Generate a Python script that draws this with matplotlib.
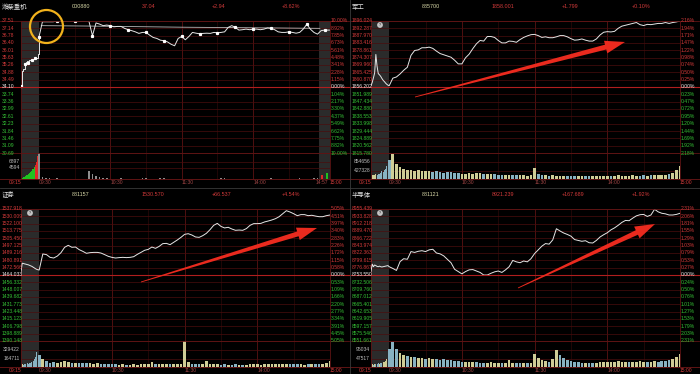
import matplotlib

matplotlib.use("Agg")
import matplotlib.patches as patches
import matplotlib.pyplot as plt
import matplotlib.transforms as mtrans
from matplotlib.lines import Line2D
import numpy as np

plt.rcParams["font.family"] = ["Liberation Sans", "Noto Sans CJK SC"]

W, H = 700, 374
BG = "#000000"
SHADE = "#2b2b2b"
FRAME = "#5e1414"
HGRID = "#4a0d0d"
VGRID = "#5c1212"
VGRID2 = "#2c0909"
MIDLINE = "#b01e1e"
RED = "#d23a3a"
GREEN = "#35c035"
WHITE = "#e8e8e8"
LINE = "#e6e6e6"
VOL_UP = "#cfcd96"
VOL_DN = "#88b2c2"
FS = 3.6

# minutes after 09:30 (trading time, lunch removed); auction is 09:15-09:29
AUCTION_T = np.arange(-15, 0)
TRADE_T = np.arange(0, 241, 3)

# ---------------- 潍柴重机 000880 (price) ----------------
wc_header = ["潍柴重机", "000880", "37.04", "+2.94", "+8.62%"]
wc_left = ["37.51", "37.14", "36.78", "36.40", "36.01", "35.63", "35.26", "34.88", "34.49",
           "34.10", "33.74", "33.36", "32.99", "32.61", "32.23", "31.84", "31.46", "31.09", "30.69"]
wc_right = ["10.00%", "8.92%", "7.85%", "6.73%", "5.61%", "4.48%", "3.41%", "2.28%", "1.15%",
            "0.00%", "1.04%", "2.17%", "3.30%", "4.37%", "5.49%", "6.62%", "7.75%", "8.82%", "10.00%"]
wc_auction = [34.14, 34.95, 35.02, 35.30, 35.40, 35.45, 35.35, 35.50, 35.52, 35.50,
              35.55, 35.56, 35.58, 35.60, 35.78]
wc_price = [36.66, 37.47, 37.47, 37.47, 37.47, 37.51, 37.51, 37.51, 37.51, 37.51,
            37.51, 37.51, 37.51, 37.51, 37.51, 36.75, 37.41, 37.35, 37.27, 37.30,
            37.27, 37.21, 37.23, 37.23, 37.13, 37.06, 37.01, 36.95, 36.87, 36.92,
            36.92, 36.78, 36.66, 36.61, 36.52, 36.49, 36.43, 36.31, 36.23, 36.61,
            36.71, 36.54, 36.71, 36.92, 36.88, 36.85, 36.87, 36.88, 36.87, 36.92,
            36.90, 36.92, 36.95, 37.18, 37.27, 37.18, 37.04, 37.06, 37.09, 37.06,
            37.09, 37.09, 37.06, 37.09, 37.15, 37.13, 37.06, 36.95, 36.92, 36.92,
            36.95, 36.92, 36.88, 36.92, 37.09, 37.34, 37.09, 36.92, 36.83, 37.01,
            37.04]
wc_close_t = [244]
wc_close_price = [37.04]
wc_avg_t = [2, 40, 80, 120, 160, 200, 236]
wc_avg = [37.27, 37.25, 37.22, 37.19, 37.17, 37.15, 37.13]
wc_auction_vol = [310, 517, 828, 1035, 1345, 1655, 2069, 2483, 2897, 3414, 3931, 4655, 5690, 6724, 9311]
wc_auction_side = ["b", "b", "b", "b", "b", "b", "b", "b", "b", "b", "b", "b", "s", "s", "s"]
wc_vol = [10300, 830, 520, 410, 310, 360, 310, 260, 310, 260,
          210, 260, 210, 310, 3100, 2280, 1240, 830, 520, 410,
          310, 260, 310, 360, 310, 260, 210, 310, 260, 360,
          410, 310, 260, 310, 360, 410, 310, 260, 210, 260,
          310, 260, 210, 260, 210, 310, 260, 210, 260, 210,
          310, 410, 360, 310, 260, 210, 260, 310, 210, 260,
          310, 260, 210, 260, 310, 360, 310, 260, 210, 260,
          310, 260, 310, 360, 310, 260, 310, 360, 410, 310,
          260]
wc_close_vol_t = [238, 242]
wc_close_vol = [1760, 2380]
wc_vol_ticks = [6897, 4594]

# ---------------- 军工 885700 (% change) ----------------
jg_header = ["军工", "885700", "1858.001", "+1.799", "+0.10%"]
jg_left = ["1896.024", "1892.287", "1887.970", "1883.416", "1878.861", "1874.307", "1869.960",
           "1865.425", "1860.870", "1856.202", "1851.989", "1847.434", "1842.880", "1838.553",
           "1833.998", "1829.444", "1824.889", "1820.562", "1815.780"]
jg_right = ["2.16%", "1.94%", "1.71%", "1.47%", "1.22%", "0.98%", "0.74%", "0.50%", "0.25%",
            "0.00%", "0.23%", "0.47%", "0.72%", "0.95%", "1.20%", "1.44%", "1.69%", "1.92%", "2.18%"]
jg_auction = [0.04, 0.15, 0.30, 0.46, 1.07, 0.68, 0.44, 0.40, 0.35, 0.28, 0.22, 0.18, 0.13, 0.09, 0.06]
jg_pct = [0.04, 0.29, 0.33, 0.43, 0.55, 0.65, 1.04, 1.20, 1.22, 1.29,
          1.29, 1.31, 1.27, 1.18, 1.10, 1.06, 1.02, 0.98, 0.88, 0.76,
          0.76, 0.96, 1.08, 1.26, 1.42, 1.53, 1.51, 1.66, 1.66, 1.63,
          1.53, 1.45, 1.45, 1.51, 1.50, 1.47, 1.56, 1.63, 1.68, 1.72,
          1.73, 1.69, 1.63, 1.65, 1.62, 1.62, 1.65, 1.69, 1.69, 1.65,
          1.59, 1.54, 1.55, 1.58, 1.54, 1.51, 1.51, 1.58, 1.71, 1.80,
          1.82, 1.81, 1.83, 1.93, 2.00, 2.03, 2.06, 2.09, 2.12, 2.05,
          2.02, 2.06, 2.05, 2.07, 2.09, 2.09, 2.12, 2.09, 2.12, 2.14,
          2.17]
jg_auction_vol_k = [154, 192, 231, 192, 256, 231, 256, 282, 320, 385, 359, 449, 513, 641, 577]
jg_vol_k = [961, 1218, 769, 577, 487, 449, 462, 423, 449, 410,
            385, 410, 359, 385, 359, 320, 346, 333, 320, 308,
            282, 256, 308, 282, 320, 308, 282, 256, 244, 256,
            231, 218, 231, 205, 218, 192, 205, 192, 179, 192,
            538, 256, 205, 192, 179, 192, 167, 179, 154, 167,
            154, 154, 141, 154, 141, 154, 141, 154, 179, 167,
            179, 167, 179, 192, 179, 167, 179, 192, 179, 167,
            192, 179, 192, 205, 192, 205, 231, 256, 320, 449,
            641]
jg_vol_ticks = [854656, 427328]

# ---------------- 证券 881157 (% change) ----------------
zq_header = ["证券", "881157", "1530.570", "+66.537", "+4.54%"]
zq_left = ["1537.918", "1530.009", "1522.100", "1513.775", "1505.450", "1497.125", "1489.216",
           "1480.891", "1472.566", "1464.033", "1456.332", "1448.007", "1439.682", "1431.773",
           "1423.448", "1415.123", "1406.798", "1398.889", "1390.148"]
zq_right = ["5.05%", "4.51%", "3.97%", "3.40%", "2.83%", "2.26%", "1.72%", "1.15%", "0.58%",
            "0.00%", "0.53%", "1.09%", "1.66%", "2.20%", "2.77%", "3.34%", "3.91%", "4.45%", "5.05%"]
zq_auction = [0.25, 0.90, 0.88, 0.85, 0.83, 0.80, 0.78, 0.74, 0.70, 0.66, 0.60, 0.54, 0.48, 0.43, 0.40]
zq_pct = [0.38, 1.61, 1.56, 1.35, 1.30, 1.45, 1.71, 2.12, 2.27, 2.12,
          2.14, 1.94, 1.81, 1.66, 1.71, 1.73, 1.73, 1.68, 1.56, 1.43,
          1.35, 1.30, 1.33, 1.35, 1.33, 1.35, 1.40, 1.58, 1.73, 1.89,
          1.96, 2.14, 2.04, 2.19, 2.40, 2.42, 2.32, 2.50, 2.68, 2.88,
          3.11, 3.16, 3.06, 2.91, 2.88, 3.01, 3.19, 3.47, 3.80, 3.95,
          3.72, 3.60, 3.65, 3.52, 3.42, 3.44, 3.42, 3.55, 3.80, 3.93,
          3.93, 3.95, 4.06, 4.13, 4.21, 4.31, 4.46, 4.69, 4.92, 4.82,
          4.69, 4.54, 4.62, 4.62, 4.54, 4.57, 4.51, 4.46, 4.46, 4.54,
          4.59]
zq_auction_vol_k = [49, 59, 49, 69, 59, 74, 64, 79, 89, 99, 124, 148, 198, 296, 410]
zq_vol_k = [222, 148, 109, 89, 99, 84, 99, 124, 99, 89,
            79, 89, 74, 84, 74, 69, 79, 69, 64, 69,
            59, 54, 49, 54, 49, 49, 54, 49, 59, 54,
            64, 99, 59, 64, 54, 69, 59, 54, 59, 64,
            494, 99, 59, 54, 59, 69, 109, 69, 59, 54,
            49, 54, 49, 49, 54, 49, 44, 49, 54, 59,
            54, 49, 59, 64, 59, 54, 69, 64, 69, 59,
            54, 59, 54, 49, 54, 59, 54, 59, 64, 74,
            124]
zq_vol_ticks = [329422, 164711]

# ---------------- 半导体 881121 (% change) ----------------
bdt_header = ["半导体", "881121", "8921.239", "+167.689", "+1.92%"]
bdt_left = ["8955.439", "8933.828", "8912.218", "8889.470", "8866.722", "8843.974", "8822.363",
            "8799.615", "8776.867", "8753.550", "8732.506", "8709.760", "8687.012", "8665.401",
            "8642.653", "8619.905", "8597.157", "8575.546", "8551.661"]
bdt_right = ["2.31%", "2.06%", "1.81%", "1.55%", "1.29%", "1.03%", "0.79%", "0.53%", "0.27%",
             "0.00%", "0.24%", "0.50%", "0.76%", "1.01%", "1.27%", "1.53%", "1.79%", "2.03%", "2.31%"]
bdt_auction = [0.12, 0.38, 0.29, 0.35, 0.33, 0.30, 0.29, 0.31, 0.29, 0.28, 0.29, 0.30, 0.31, 0.32, 0.33]
bdt_pct = [0.29, 0.23, 0.16, 0.47, 0.57, 0.55, 0.82, 0.79, 0.83, 0.85,
           0.82, 0.88, 0.90, 0.77, 0.74, 0.67, 0.55, 0.43, 0.20, 0.12,
           0.04, 0.12, 0.18, 0.19, 0.14, 0.09, 0.00, 0.00, 0.06, 0.11,
           0.14, 0.09, 0.18, 0.29, 0.51, 0.46, 0.43, 0.49, 0.46, 0.57,
           0.75, 0.88, 1.01, 1.10, 1.08, 1.23, 1.62, 1.54, 1.47, 1.42,
           1.36, 1.24, 1.21, 1.18, 1.20, 1.13, 1.12, 1.21, 1.33, 1.41,
           1.48, 1.58, 1.65, 1.74, 1.84, 1.91, 1.90, 1.99, 2.07, 2.11,
           2.12, 2.05, 2.10, 2.30, 2.21, 2.16, 2.14, 2.10, 2.10, 2.12,
           2.16]
bdt_auction_vol_k = [14, 17, 14, 17, 20, 19, 21, 20, 23, 26, 29, 31, 36, 43, 54]
bdt_vol_k = [100, 135, 100, 78, 64, 60, 54, 57, 51, 50,
             47, 48, 46, 43, 40, 43, 38, 40, 36, 34,
             31, 29, 27, 29, 30, 26, 24, 26, 27, 26,
             24, 24, 23, 40, 21, 23, 21, 23, 21, 23,
             71, 50, 40, 34, 31, 43, 93, 64, 50, 40,
             36, 31, 29, 26, 24, 23, 24, 26, 29, 31,
             29, 27, 30, 33, 29, 31, 30, 29, 31, 34,
             30, 29, 31, 34, 31, 33, 36, 40, 43, 54,
             71]
bdt_vol_ticks = [95034, 47517]


def fx(x):
    return x / W


def fy(y):
    return 1 - y / H


def px_axes(fig, x0, y0, x1, y1):
    return fig.add_axes([x0 / W, 1 - y1 / H, (x1 - x0) / W, (y1 - y0) / H])


def panel_frame(fig, ox, oy, header, left_labels, right_labels, ylim, xlim, vol_top,
                vol_ticks, time_labels, grey_right=None):
    x0, x1 = ox + 21, ox + 330
    ax = px_axes(fig, x0, oy + 21, x1, oy + 153)
    axv = px_axes(fig, x0, oy + 153, x1, oy + 179.3)
    ax.set_ylim(*ylim)
    axv.set_ylim(0, vol_top)
    for a in (ax, axv):
        a.set_facecolor(BG)
        a.set_xlim(*xlim)
        a.set_autoscale_on(False)
        a.set_xticks([])
        a.set_yticks([])
        for s in a.spines.values():
            s.set_color(FRAME)
            s.set_linewidth(0.6)
        a.axvspan(xlim[0], 0, color=SHADE, lw=0, zorder=0)
        if grey_right is not None:
            a.axvspan(grey_right, xlim[1], color=SHADE, lw=0, zorder=0)
        for t in (60, 120, 180):
            a.axvline(t, color=VGRID, lw=0.6, zorder=1)
        for t in (30, 90, 150, 210):
            a.axvline(t, color=VGRID2, lw=0.5, zorder=1)

    # full-width lines (limits and previous close) are drawn on the figure itself
    ticks = np.linspace(ylim[1], ylim[0], len(left_labels))
    mid = len(left_labels) // 2
    y_top, y_bot = oy + 21, oy + 153
    for i, (ll, rl) in enumerate(zip(left_labels, right_labels)):
        c = RED if i < mid else (WHITE if i == mid else GREEN)
        yv = ticks[i]
        ypix = y_top + (y_bot - y_top) * i / (len(ticks) - 1)
        if i in (0, mid, len(ticks) - 1):
            fig.add_artist(Line2D([fx(ox), fx(ox + 349)], [fy(ypix)] * 2,
                                  color=MIDLINE if i == mid else FRAME,
                                  lw=0.8 if i == mid else 0.6, zorder=2))
        else:
            ax.axhline(yv, color=HGRID, lw=0.5, zorder=1)
        fig.text(fx(ox + 1.5), fy(ypix), ll, ha="left", va="center", fontsize=FS, color=c)
        fig.text(fx(ox + 331), fy(ypix), rl, ha="left", va="center", fontsize=FS, color=c)

    vtrans = mtrans.blended_transform_factory(fig.transFigure, axv.transData)
    for v in vol_ticks:
        axv.axhline(v, color=HGRID, lw=0.5, zorder=1)
        axv.text(fx(ox + 20), v, str(v), transform=vtrans, ha="right", va="center", fontsize=FS, color="#bdbdbd")
    fig.add_artist(Line2D([fx(ox), fx(ox + 349)], [fy(oy + 179.3)] * 2, color=FRAME, lw=0.7))

    ttrans = mtrans.blended_transform_factory(axv.transData, fig.transFigure)
    for lab, t, ha in time_labels:
        col = RED if lab in ("09:15", "15:00") else "#a04545"
        axv.text(t, fy(oy + 182.5), lab, transform=ttrans, ha=ha, va="center", fontsize=FS, color=col)

    xs = [ox + 2, ox + 72, ox + 142, ox + 212, ox + 282]
    cols = ["#e0e0e0", "#d8d8a8", RED, RED, RED]
    sizes = [4.6, 3.9, 3.9, 3.9, 3.9]
    for x, s, c, fs in zip(xs, header, cols, sizes):
        fig.text(fx(x), fy(oy + 6.5), s, ha="left", va="center", fontsize=fs, color=c)
    return ax, axv


def index_panel(fig, ox, oy, header, left_labels, right_labels, lim, auction, pct,
                auction_vol_k, vol_k, vol_ticks):
    xlim = (-15, 240)
    vt = vol_ticks[0] * 1.5
    times = [("09:15", xlim[0], "right"), ("09:30", 0, "left"), ("10:30", 60, "left"),
             ("11:30", 120, "left"), ("14:00", 180, "left"), ("15:00", 240, "left")]
    ax, axv = panel_frame(fig, ox, oy, header, left_labels, right_labels, (-lim, lim), xlim, vt,
                          vol_ticks, times)
    t = np.concatenate([AUCTION_T, TRADE_T])
    v = np.concatenate([auction, pct])
    ax.plot(t, v, color=LINE, lw=0.7, zorder=4)

    vol = np.concatenate([auction_vol_k, vol_k]) * 1000
    d = np.diff(np.concatenate([[v[0]], v]))
    colors = np.where(d >= 0, VOL_UP, VOL_DN)
    widths = np.concatenate([np.full(len(AUCTION_T), 0.75), np.full(len(TRADE_T), 2.2)])
    axv.bar(t, vol, width=widths, color=colors, lw=0, zorder=3)
    ax.set_ylim(-lim, lim)
    axv.set_ylim(0, vt)

    fig.text(fx(ox + 30), fy(oy + 25), "?", ha="center", va="center", fontsize=2.6, color="#111111",
             bbox=dict(boxstyle="circle,pad=0.25", fc="#c4c4c4", ec="none"))


def red_arrow(fig, tail, tip, head_len=20, head_w=13, tail_w=0.8, neck_w=5):
    t = np.array(tail, float)
    p = np.array(tip, float)
    u = (p - t) / np.hypot(*(p - t))
    n = np.array([-u[1], u[0]])
    base = p - u * head_len
    pts = [t + n * tail_w / 2, base + n * neck_w / 2, base + n * head_w / 2, p,
           base - n * head_w / 2, base - n * neck_w / 2, t - n * tail_w / 2]
    pts = [(fx(x), fy(y)) for x, y in pts]
    fig.patches.append(patches.Polygon(pts, closed=True, transform=fig.transFigure,
                                       fc="#ea2a1e", ec="none", zorder=20))


def main():
    fig = plt.figure(figsize=(7.0, 3.74), dpi=100, facecolor=BG)

    # --- top-left: the stock --------------------------------------------------
    xlim = (-15, 244.5)
    times = [("09:15", xlim[0], "right"), ("09:30", 0, "left"), ("10:30", 60, "left"),
             ("11:30", 120, "left"), ("14:00", 180, "left"), ("14:57", 243, "right"),
             ("15:00", 244.5, "left")]
    ax, axv = panel_frame(fig, 0, 0, wc_header, wc_left, wc_right, (30.69, 37.51), xlim, 10345,
                          wc_vol_ticks, times, grey_right=235.5)
    ax.plot(np.append(AUCTION_T, 0), wc_auction + [wc_price[0]], color=LINE, lw=0.7,
            drawstyle="steps-post", zorder=4)
    ax.plot(AUCTION_T[::3], wc_auction[::3], ls="none", marker="s", ms=1.3, color="white", zorder=5)
    ax.plot(np.append(TRADE_T, wc_close_t), wc_price + wc_close_price, color=LINE, lw=0.7,
            marker="s", ms=1.3, markevery=5, mfc="white", mec="white", zorder=4)
    ax.plot(wc_avg_t, wc_avg, color="#b8b8b8", lw=0.6, zorder=3)

    auc_cols = ["#1fc21f" if s == "b" else "#e02828" for s in wc_auction_side]
    axv.bar(AUCTION_T, wc_auction_vol, width=1.0, color=auc_cols, lw=0, zorder=3)
    axv.bar(TRADE_T, wc_vol, width=1.4, color="#8e8e8e", lw=0, zorder=3)
    axv.bar(wc_close_vol_t, wc_close_vol, width=2.0, color=["#e02828", "#1fc21f"], lw=0, zorder=3)
    ax.set_ylim(30.69, 37.51)
    axv.set_ylim(0, 10345)

    # --- index panels ---------------------------------------------------------
    index_panel(fig, 350, 0, jg_header, jg_left, jg_right, 2.17, jg_auction, jg_pct,
                jg_auction_vol_k, jg_vol_k, jg_vol_ticks)
    index_panel(fig, 0, 188, zq_header, zq_left, zq_right, 5.05, zq_auction, zq_pct,
                zq_auction_vol_k, zq_vol_k, zq_vol_ticks)
    index_panel(fig, 350, 188, bdt_header, bdt_left, bdt_right, 2.31, bdt_auction, bdt_pct,
                bdt_auction_vol_k, bdt_vol_k, bdt_vol_ticks)

    # panel separators
    fig.add_artist(Line2D([fx(349.5)] * 2, [0, 1], color="#3a3a3a", lw=0.6))
    fig.add_artist(Line2D([0, 1], [fy(188)] * 2, color="#3a3a3a", lw=0.6))

    # hand-drawn annotations on top of the screenshot
    fig.patches.append(patches.Ellipse((fx(46.5), fy(26.5)), 33 / W, 33 / H, transform=fig.transFigure,
                                       fill=False, ec="#f2b21c", lw=1.6, zorder=20))
    red_arrow(fig, (415, 97), (625, 42))
    red_arrow(fig, (141, 282), (317, 228))
    red_arrow(fig, (518, 288), (655, 224))

    fig.savefig("out.png", dpi=100, facecolor=BG)
    plt.close(fig)


if __name__ == "__main__":
    main()
